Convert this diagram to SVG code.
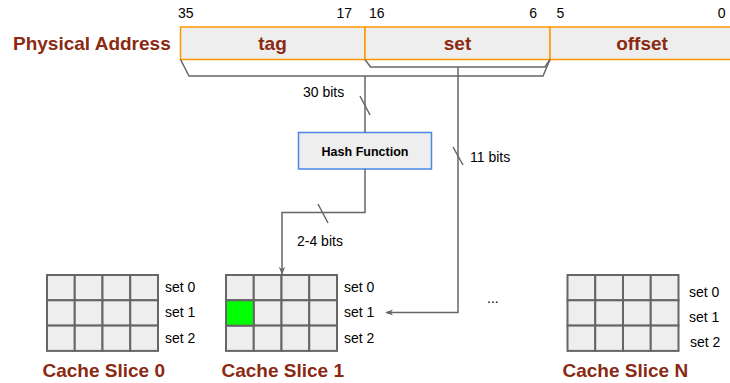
<svg xmlns="http://www.w3.org/2000/svg" width="730" height="383" viewBox="0 0 730 383">
<defs>
<style>
.lbl{font-family:"Liberation Sans",Arial,sans-serif;font-size:14px;fill:#000}
.big{font-family:"Liberation Sans",Arial,sans-serif;font-size:19px;font-weight:bold;fill:#8b2a13}
.field{fill:#eeeeee;stroke:#ff9900;stroke-width:1.5}
.wire{fill:none;stroke:#666666;stroke-width:1.5}
.cell{fill:#eeeeee;stroke:#666666;stroke-width:2}
</style>
<marker id="arr" viewBox="0 0 10 10" refX="9" refY="5" markerWidth="8" markerHeight="8" orient="auto" markerUnits="userSpaceOnUse">
<path d="M0,1 L10,5 L0,9 L3,5 Z" fill="#666666"/>
</marker>
<g id="grid">
<rect class="cell" x="0" y="0" width="27.75" height="25.3"/>
<rect class="cell" x="27.75" y="0" width="27.75" height="25.3"/>
<rect class="cell" x="55.5" y="0" width="27.75" height="25.3"/>
<rect class="cell" x="83.25" y="0" width="27.75" height="25.3"/>
<rect class="cell" x="0" y="25.3" width="27.75" height="25.3"/>
<rect class="cell" x="27.75" y="25.3" width="27.75" height="25.3"/>
<rect class="cell" x="55.5" y="25.3" width="27.75" height="25.3"/>
<rect class="cell" x="83.25" y="25.3" width="27.75" height="25.3"/>
<rect class="cell" x="0" y="50.6" width="27.75" height="25.3"/>
<rect class="cell" x="27.75" y="50.6" width="27.75" height="25.3"/>
<rect class="cell" x="55.5" y="50.6" width="27.75" height="25.3"/>
<rect class="cell" x="83.25" y="50.6" width="27.75" height="25.3"/>
</g>
</defs>
<rect width="730" height="383" fill="#ffffff"/>

<g id="address">
<text class="big" x="13" y="49.5">Physical Address</text>
<text class="lbl" x="178" y="17.5">35</text>
<text class="lbl" x="352" y="17.5" text-anchor="end">17</text>
<text class="lbl" x="369" y="17.5">16</text>
<text class="lbl" x="537" y="17.5" text-anchor="end">6</text>
<text class="lbl" x="556.5" y="17.5">5</text>
<text class="lbl" x="725.5" y="17.5" text-anchor="end">0</text>
</g>
<g id="tag">
<rect class="field" x="180.5" y="27" width="184.5" height="32.5"/>
<text class="big" x="272.5" y="49.5" text-anchor="middle">tag</text>
</g>
<g id="set">
<rect class="field" x="365" y="27" width="185" height="32.5"/>
<text class="big" x="457.5" y="49.5" text-anchor="middle">set</text>
</g>
<g id="offset">
<rect class="field" x="550" y="27" width="182" height="32.5"/>
<text class="big" x="642" y="49.5" text-anchor="middle">offset</text>
</g>

<g id="hash">
<rect x="298.5" y="132.5" width="133" height="36.5" fill="#eeeeee" stroke="#4a86e8" stroke-width="1.5"/>
<text x="365" y="156" text-anchor="middle" font-family="Liberation Sans, Arial, sans-serif" font-size="12.5" font-weight="bold" fill="#000">Hash Function</text>
</g>

<g id="slice0">
<use href="#grid" x="47" y="275"/>
<text class="lbl" x="165" y="291.5">set 0</text>
<text class="lbl" x="165" y="317">set 1</text>
<text class="lbl" x="165" y="342.5">set 2</text>
<text class="big" x="42.5" y="377">Cache Slice 0</text>
</g>
<g id="slice1">
<use href="#grid" x="226" y="275"/>
<rect x="226" y="300.3" width="27.75" height="25.3" fill="#00ff00" stroke="#666666" stroke-width="2"/>
<text class="lbl" x="344" y="291.5">set 0</text>
<text class="lbl" x="344" y="317">set 1</text>
<text class="lbl" x="344" y="342.5">set 2</text>
<text class="big" x="221.5" y="377">Cache Slice 1</text>
</g>
<g id="sliceN">
<use href="#grid" x="567.5" y="275"/>
<text class="lbl" x="689" y="297">set 0</text>
<text class="lbl" x="689" y="322">set 1</text>
<text class="lbl" x="690" y="347">set 2</text>
<text class="big" x="562.5" y="377">Cache Slice N</text>
</g>
<text class="lbl" x="487" y="303" font-size="12">...</text>

<g id="connectors">
<polyline class="wire" points="180.5,59.5 189,76 543,76 550,59.5"/>
<polyline class="wire" points="365,59.5 370.5,67 545,67 550,59.5"/>
<line class="wire" x1="365" y1="76" x2="365" y2="132.5"/>
<line class="wire" x1="360" y1="96" x2="370" y2="115"/>
<text class="lbl" x="303" y="97">30 bits</text>
<polyline class="wire" points="365,169 365,212.5 282,212.5 282,274" marker-end="url(#arr)"/>
<line class="wire" x1="318" y1="204" x2="328" y2="223"/>
<text class="lbl" x="297" y="246">2-4 bits</text>
<polyline class="wire" points="458,67 458,312.5 386,312.5" marker-end="url(#arr)"/>
<line class="wire" x1="453" y1="147" x2="463" y2="165"/>
<text class="lbl" x="470" y="162">11 bits</text>
</g>
</svg>
